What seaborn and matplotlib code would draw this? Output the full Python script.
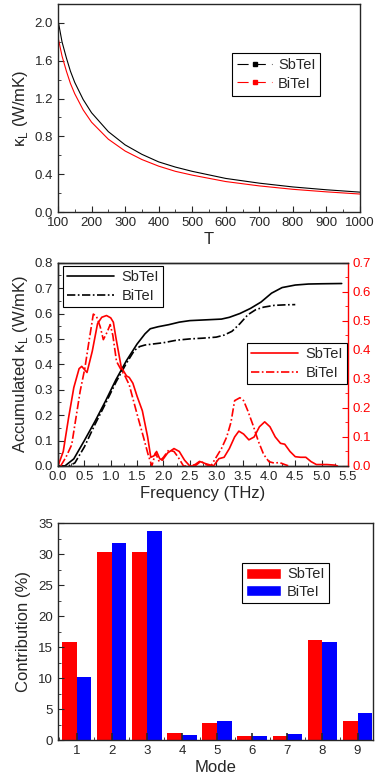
import pandas as pd
import seaborn as sns
import matplotlib.pyplot as plt
from matplotlib.lines import Line2D
from matplotlib.patches import Patch
from matplotlib.ticker import MultipleLocator, FixedLocator, FormatStrFormatter

# --- panel 1: lattice thermal conductivity vs temperature ---
temps = [100, 112, 125, 137, 150, 175, 200, 250, 300, 350, 400, 450, 500, 600, 700, 800, 900, 1000]
kappa_sbtei = [2.03, 1.80, 1.63, 1.49, 1.37, 1.19, 1.05, 0.85, 0.71, 0.61, 0.53, 0.475, 0.43,
               0.355, 0.305, 0.265, 0.235, 0.21]
kappa_bitei = [1.85, 1.65, 1.49, 1.36, 1.25, 1.08, 0.95, 0.77, 0.645, 0.555, 0.485, 0.43, 0.39,
               0.322, 0.276, 0.24, 0.213, 0.19]

# --- panel 2: accumulated kappa (left) and spectral kappa (right) ---
acc_sb_freq = [0.0, 0.13, 0.3, 0.5, 0.7, 0.9, 1.1, 1.3, 1.5, 1.65, 1.75, 1.9, 2.1, 2.3, 2.5,
               2.8, 3.1, 3.25, 3.45, 3.65, 3.85, 4.05, 4.25, 4.5, 4.75, 5.0, 5.38]
acc_sb = [0.0, 0.0, 0.028, 0.1, 0.175, 0.255, 0.34, 0.415, 0.48, 0.52, 0.54, 0.548, 0.556,
          0.566, 0.572, 0.575, 0.578, 0.585, 0.6, 0.62, 0.645, 0.68, 0.702, 0.712, 0.716, 0.717, 0.718]
acc_bi_freq = [0.0, 0.2, 0.32, 0.5, 0.7, 0.9, 1.1, 1.3, 1.45, 1.55, 1.65, 1.8, 2.0, 2.25, 2.5,
               2.75, 3.0, 3.15, 3.3, 3.45, 3.6, 3.75, 3.9, 4.1, 4.3, 4.5]
acc_bi = [0.0, 0.0, 0.012, 0.075, 0.163, 0.245, 0.33, 0.405, 0.455, 0.47, 0.476, 0.48, 0.485,
          0.495, 0.5, 0.503, 0.507, 0.515, 0.53, 0.56, 0.595, 0.615, 0.625, 0.632, 0.634, 0.635]

spec_sb_freq = [0.0, 0.1, 0.2, 0.3, 0.4, 0.45, 0.55, 0.65, 0.75, 0.83, 0.92, 1.0, 1.05, 1.1,
                1.2, 1.3, 1.35, 1.42, 1.5, 1.6, 1.7, 1.76, 1.82, 1.87, 1.93, 1.98, 2.08, 2.2,
                2.3, 2.4, 2.5, 2.6, 2.7, 2.8, 2.95, 3.05, 3.15, 3.25, 3.35, 3.43, 3.52, 3.62,
                3.72, 3.82, 3.92, 4.02, 4.12, 4.22, 4.3, 4.4, 4.5, 4.6, 4.7, 4.8, 4.9, 5.1,
                5.25, 5.3]
spec_sb = [0.0, 0.05, 0.165, 0.27, 0.335, 0.343, 0.322, 0.395, 0.49, 0.512, 0.518, 0.51,
           0.495, 0.44, 0.34, 0.31, 0.305, 0.285, 0.24, 0.19, 0.1, 0.03, 0.035, 0.05, 0.025,
           0.02, 0.045, 0.06, 0.05, 0.02, 0.0, 0.0, 0.015, 0.008, 0.0, 0.025, 0.03, 0.06, 0.1,
           0.12, 0.11, 0.09, 0.1, 0.135, 0.152, 0.135, 0.1, 0.078, 0.075, 0.05, 0.032, 0.03,
           0.03, 0.015, 0.005, 0.005, 0.003, 0.0]
spec_bi_freq = [0.05, 0.15, 0.26, 0.42, 0.51, 0.58, 0.67, 0.73, 0.8, 0.86, 0.93, 0.99, 1.04,
                1.11, 1.2, 1.27, 1.35, 1.52, 1.62, 1.71, 1.78, 1.85, 1.92, 2.0, 2.1, 2.2, 2.28,
                2.38, 2.5, 2.6, 2.7, 2.8, 2.9, 3.0, 3.1, 3.2, 3.28, 3.35, 3.45, 3.52, 3.6, 3.7,
                3.8, 3.9, 4.0, 4.1, 4.2, 4.3, 4.38]
spec_bi = [0.0, 0.03, 0.073, 0.257, 0.337, 0.42, 0.523, 0.515, 0.48, 0.435, 0.46, 0.487, 0.45,
           0.36, 0.33, 0.31, 0.28, 0.165, 0.1, 0.039, 0.0, 0.045, 0.015, 0.03, 0.055, 0.05,
           0.03, 0.0, 0.0, 0.005, 0.018, 0.005, 0.0, 0.03, 0.06, 0.1, 0.15, 0.225, 0.235,
           0.225, 0.19, 0.14, 0.085, 0.04, 0.015, 0.01, 0.012, 0.005, 0.0]

# --- panel 3: mode contributions ---
modes = ["1", "2", "3", "4", "5", "6", "7", "8", "9"]
contrib_sbtei = [15.8, 30.3, 30.3, 1.2, 2.8, 0.6, 0.7, 16.2, 3.0]
contrib_bitei = [10.1, 31.7, 33.7, 0.8, 3.0, 0.6, 0.9, 15.8, 4.4]

RED = "#FF0000"
BLUE = "#0000FF"

sns.set_style("ticks")
plt.rcParams["font.family"] = ["Liberation Sans", "DejaVu Sans"]
plt.rcParams["mathtext.fontset"] = "custom"
plt.rcParams["mathtext.rm"] = "Liberation Sans"
plt.rcParams["xtick.direction"] = "in"
plt.rcParams["ytick.direction"] = "in"
plt.rcParams["xtick.major.size"] = 4
plt.rcParams["ytick.major.size"] = 4
plt.rcParams["xtick.minor.size"] = 2.2
plt.rcParams["ytick.minor.size"] = 2.2
plt.rcParams["axes.linewidth"] = 1.0

TICK_FS = 9.5
LABEL_FS = 12
LEG_FS = 10.5

fig = plt.figure(figsize=(3.82, 7.82), dpi=100)
ax1 = fig.add_axes([0.1518, 0.7289, 0.7906, 0.266])
ax2 = fig.add_axes([0.1518, 0.4041, 0.7592, 0.26])
ax3 = fig.add_axes([0.1518, 0.0537, 0.8246, 0.2775])

# ---------- panel 1 ----------
sns.lineplot(x=temps, y=kappa_sbtei, ax=ax1, color="black", lw=0.8)
sns.lineplot(x=temps, y=kappa_bitei, ax=ax1, color=RED, lw=0.8)
ax1.set_xlim(100, 1000)
ax1.set_ylim(0, 2.2)
ax1.xaxis.set_major_locator(MultipleLocator(100))
ax1.xaxis.set_minor_locator(MultipleLocator(50))
ax1.yaxis.set_major_locator(MultipleLocator(0.4))
ax1.yaxis.set_minor_locator(MultipleLocator(0.2))
ax1.yaxis.set_major_formatter(FormatStrFormatter("%.1f"))
ax1.tick_params(labelsize=TICK_FS)
ax1.set_xlabel("T", fontsize=LABEL_FS, labelpad=2)
ax1.set_ylabel(r"κ$_\mathregular{L}$ (W/mK)", fontsize=LABEL_FS, labelpad=3)
h1 = [Line2D([], [], color="black", lw=0.8, dashes=(10, 5.5), marker="s", ms=2.5),
      Line2D([], [], color=RED, lw=0.8, dashes=(10, 5.5), marker="s", ms=2.5)]
ax1.legend(h1, ["SbTeI", "BiTeI"], loc="upper left", bbox_to_anchor=(0.576, 0.764),
           borderaxespad=0, fontsize=LEG_FS, frameon=True, fancybox=False,
           edgecolor="black", framealpha=1, handlelength=2.4, handletextpad=0.4,
           labelspacing=0.3, borderpad=0.35).get_frame().set_linewidth(0.8)

# ---------- panel 2 ----------
ax2r = ax2.twinx()
ax2r.set_position(ax2.get_position())
sns.lineplot(x=acc_sb_freq, y=acc_sb, ax=ax2, color="black", lw=1.2)
sns.lineplot(x=acc_bi_freq, y=acc_bi, ax=ax2, color="black", lw=1.2, dashes=False)
ax2.lines[-1].set_dashes((5, 1.5, 1, 1.5))
sns.lineplot(x=spec_sb_freq, y=spec_sb, ax=ax2r, color=RED, lw=1.2)
sns.lineplot(x=spec_bi_freq, y=spec_bi, ax=ax2r, color=RED, lw=1.2)
ax2r.lines[-1].set_dashes((5, 1.5, 1, 1.5))

ax2.set_xlim(0, 5.5)
ax2.set_ylim(0, 0.8)
ax2r.set_ylim(0, 0.7)
ax2.xaxis.set_major_locator(MultipleLocator(0.5))
ax2.xaxis.set_minor_locator(MultipleLocator(0.25))
ax2.yaxis.set_major_locator(MultipleLocator(0.1))
ax2.yaxis.set_minor_locator(MultipleLocator(0.05))
ax2r.yaxis.set_major_locator(MultipleLocator(0.1))
ax2r.yaxis.set_minor_locator(MultipleLocator(0.05))
ax2.xaxis.set_major_formatter(FormatStrFormatter("%.1f"))
ax2.yaxis.set_major_formatter(FormatStrFormatter("%.1f"))
ax2r.yaxis.set_major_formatter(FormatStrFormatter("%.1f"))
ax2.tick_params(labelsize=TICK_FS)
ax2r.tick_params(axis="y", which="both", colors=RED, labelsize=TICK_FS)
ax2r.spines["right"].set_color(RED)
ax2.spines["right"].set_visible(False)
ax2.set_xlabel("Frequency (THz)", fontsize=LABEL_FS, labelpad=2)
ax2.set_ylabel(r"Accumulated κ$_\mathregular{L}$ (W/mK)", fontsize=LABEL_FS, labelpad=3)

h2 = [Line2D([], [], color="black", lw=1.2),
      Line2D([], [], color="black", lw=1.2, dashes=(5, 1.5, 1, 1.5))]
ax2.legend(h2, ["SbTeI", "BiTeI"], loc="upper left", bbox_to_anchor=(0.017, 0.984),
           borderaxespad=0, fontsize=LEG_FS, fancybox=False, edgecolor="black",
           framealpha=1, handlelength=3.2, handletextpad=0.5, labelspacing=0.3,
           borderpad=0.3).get_frame().set_linewidth(0.8)
h2r = [Line2D([], [], color=RED, lw=1.2),
       Line2D([], [], color=RED, lw=1.2, dashes=(5, 1.5, 1, 1.5))]
ax2r.legend(h2r, ["SbTeI", "BiTeI"], loc="upper left", bbox_to_anchor=(0.652, 0.605),
            borderaxespad=0, fontsize=LEG_FS, fancybox=False, edgecolor="black",
            framealpha=1, handlelength=3.2, handletextpad=0.5, labelspacing=0.3,
            borderpad=0.3).get_frame().set_linewidth(0.8)

# ---------- panel 3 ----------
df = pd.DataFrame({
    "Mode": modes * 2,
    "Contribution": contrib_sbtei + contrib_bitei,
    "Material": ["SbTeI"] * len(modes) + ["BiTeI"] * len(modes),
})
sns.barplot(data=df, x="Mode", y="Contribution", hue="Material",
            hue_order=["SbTeI", "BiTeI"], palette={"SbTeI": RED, "BiTeI": BLUE},
            saturation=1, width=0.84, linewidth=0, legend=False, ax=ax3)
ax3.set_axisbelow(False)
ax3.set_xlim(-0.53, 8.44)
ax3.set_ylim(0, 35)
ax3.xaxis.set_minor_locator(FixedLocator([i - 0.5 for i in range(10)]))
ax3.yaxis.set_major_locator(MultipleLocator(5))
ax3.yaxis.set_minor_locator(MultipleLocator(2.5))
ax3.tick_params(labelsize=TICK_FS)
ax3.tick_params(axis="x", which="major", length=5, width=1.2)
ax3.set_xlabel("Mode", fontsize=LABEL_FS, labelpad=2)
ax3.set_ylabel("Contribution (%)", fontsize=LABEL_FS, labelpad=5)
h3 = [Patch(facecolor=RED), Patch(facecolor=BLUE)]
ax3.legend(h3, ["SbTeI", "BiTeI"], loc="upper left", bbox_to_anchor=(0.584, 0.816),
           borderaxespad=0, fontsize=LEG_FS, fancybox=False, edgecolor="black",
           framealpha=1, handlelength=2.4, handleheight=0.8, handletextpad=0.4,
           labelspacing=0.25, borderpad=0.3).get_frame().set_linewidth(0.8)

for ax in (ax1, ax2, ax2r, ax3):
    for sp in ax.spines.values():
        sp.set_linewidth(1.0)

fig.savefig("out.png", dpi=100)
